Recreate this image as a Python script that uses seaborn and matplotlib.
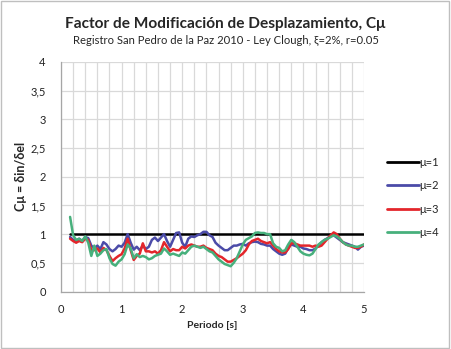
import numpy as np
import pandas as pd
import matplotlib
matplotlib.use("Agg")
import matplotlib.pyplot as plt
import seaborn as sns
from matplotlib.ticker import MultipleLocator, FuncFormatter

periodo = [round(0.15 + 0.05 * i, 2) for i in range(98)]

mu1 = [1.0] * 98
mu2 = [0.95, 0.90, 0.88, 0.92, 0.88, 0.95, 0.93, 0.80, 0.75, 0.80,
       0.74, 0.86, 0.82, 0.74, 0.70, 0.74, 0.80, 0.78, 0.85, 1.00,
       0.85, 0.73, 0.78, 0.72, 0.80, 0.74, 0.78, 0.90, 0.94, 0.88,
       0.94, 1.00, 0.88, 0.78, 0.90, 1.02, 1.03, 0.85, 0.78, 0.92,
       0.96, 0.95, 0.98, 1.00, 1.04, 1.04, 0.98, 0.95, 0.85, 0.80,
       0.76, 0.72, 0.72, 0.76, 0.80, 0.80, 0.82, 0.83, 0.80, 0.84,
       0.86, 0.87, 0.86, 0.83, 0.82, 0.80, 0.80, 0.74, 0.70, 0.66,
       0.64, 0.66, 0.76, 0.82, 0.80, 0.78, 0.78, 0.75, 0.74, 0.72,
       0.72, 0.75, 0.80, 0.86, 0.90, 0.93, 0.97, 0.98, 0.94, 0.90,
       0.86, 0.84, 0.82, 0.80, 0.78, 0.73, 0.78, 0.80]
mu3 = [0.92, 0.88, 0.85, 0.88, 0.86, 0.92, 0.90, 0.72, 0.72, 0.75,
       0.68, 0.76, 0.72, 0.62, 0.53, 0.58, 0.62, 0.65, 0.75, 0.92,
       0.72, 0.55, 0.62, 0.66, 0.84, 0.70, 0.70, 0.68, 0.70, 0.66,
       0.72, 0.86, 0.78, 0.70, 0.74, 0.72, 0.72, 0.78, 0.75, 0.80,
       0.82, 0.80, 0.78, 0.78, 0.80, 0.76, 0.74, 0.72, 0.66, 0.62,
       0.60, 0.56, 0.52, 0.52, 0.55, 0.58, 0.62, 0.66, 0.72, 0.82,
       0.88, 0.90, 0.92, 0.88, 0.86, 0.84, 0.86, 0.80, 0.74, 0.70,
       0.68, 0.68, 0.74, 0.84, 0.84, 0.82, 0.80, 0.80, 0.80, 0.80,
       0.78, 0.80, 0.78, 0.80, 0.86, 0.92, 0.98, 1.03, 1.00, 0.92,
       0.86, 0.82, 0.80, 0.78, 0.76, 0.76, 0.78, 0.82]
mu4 = [1.30, 0.98, 0.90, 0.92, 0.88, 0.96, 0.85, 0.62, 0.80, 0.62,
       0.66, 0.72, 0.74, 0.58, 0.48, 0.45, 0.52, 0.56, 0.65, 0.82,
       0.75, 0.58, 0.65, 0.60, 0.62, 0.60, 0.56, 0.58, 0.62, 0.64,
       0.66, 0.75, 0.70, 0.64, 0.66, 0.64, 0.62, 0.68, 0.66, 0.72,
       0.78, 0.80, 0.78, 0.76, 0.78, 0.74, 0.70, 0.68, 0.62, 0.56,
       0.52, 0.48, 0.46, 0.44, 0.50, 0.58, 0.70, 0.82, 0.90, 0.93,
       0.96, 1.02, 1.03, 1.02, 1.02, 1.00, 1.00, 0.84, 0.78, 0.76,
       0.70, 0.72, 0.82, 0.90, 0.86, 0.78, 0.70, 0.66, 0.64, 0.63,
       0.66, 0.74, 0.82, 0.86, 0.90, 0.92, 0.95, 0.98, 0.96, 0.92,
       0.86, 0.82, 0.80, 0.80, 0.78, 0.78, 0.80, 0.82]

labels = ["μ=1", "μ=2", "μ=3", "μ=4"]
colors = ["#000000", "#4B4BA8", "#E3262B", "#47B07C"]

frames = []
for lab, vals in zip(labels, [mu1, mu2, mu3, mu4]):
    frames.append(pd.DataFrame({"Periodo": periodo, "C": vals, "serie": lab}))
df = pd.concat(frames, ignore_index=True)

sns.set_style("white")
plt.rcParams["font.family"] = ["Lato", "DejaVu Sans"]

fig = plt.figure(figsize=(4.51, 3.49), dpi=100)
ax = fig.add_axes([61 / 451, 1 - 291.5 / 349, (364 - 61) / 451, (291.5 - 62) / 349])

sns.lineplot(data=df, x="Periodo", y="C", hue="serie", palette=colors,
             linewidth=1.8, ax=ax, legend=True, sort=False)

ax.set_xlim(0, 5)
ax.set_ylim(0, 4)
ax.xaxis.set_major_locator(MultipleLocator(1))
ax.xaxis.set_minor_locator(MultipleLocator(0.2))
ax.yaxis.set_major_locator(MultipleLocator(0.5))
fmt = FuncFormatter(lambda v, p: ("%g" % v).replace(".", ","))
ax.yaxis.set_major_formatter(fmt)
ax.grid(True, which="both", axis="x", color="#D9D9D9", linewidth=0.9)
ax.grid(True, which="major", axis="y", color="#D9D9D9", linewidth=0.9)
ax.set_axisbelow(True)
for s in ["top", "right"]:
    ax.spines[s].set_visible(False)
for s in ["left", "bottom"]:
    ax.spines[s].set_color("#A6A6A6")
    ax.spines[s].set_linewidth(0.9)
ax.tick_params(axis="both", which="both", direction="out", color="#A6A6A6",
               labelsize=8, labelcolor="#222222")
ax.tick_params(axis="x", which="major", length=4, pad=5)
ax.tick_params(axis="x", which="minor", length=3)
ax.tick_params(axis="y", which="major", length=3, pad=8)

ax.set_xlabel("Periodo [s]", fontsize=7.5, fontweight="bold", labelpad=4)
ax.set_ylabel("Cμ = δin/δel", fontsize=9, fontweight="bold", labelpad=2)

leg = ax.legend(loc="upper left", bbox_to_anchor=(1.06, 0.605), frameon=False,
                fontsize=8, handlelength=2.9, handletextpad=0.05, labelspacing=1.1,
                borderaxespad=0)
for line in leg.get_lines():
    line.set_linewidth(2.0)

fig.text(0.5, 1 - 24 / 349, "Factor de Modificación de Desplazamiento, Cμ",
         ha="center", va="center", fontsize=11.1, fontweight="bold")
fig.text(0.5, 1 - 41 / 349, "Registro San Pedro de la Paz 2010 - Ley Clough, ξ=2%, r=0.05",
         ha="center", va="center", fontsize=8.1)

fig.patches.append(plt.Rectangle((0.002, 0.003), 0.994, 0.994, transform=fig.transFigure,
                                 fill=False, edgecolor="#BFBFBF", linewidth=1))

fig.savefig("out.png", dpi=100)
